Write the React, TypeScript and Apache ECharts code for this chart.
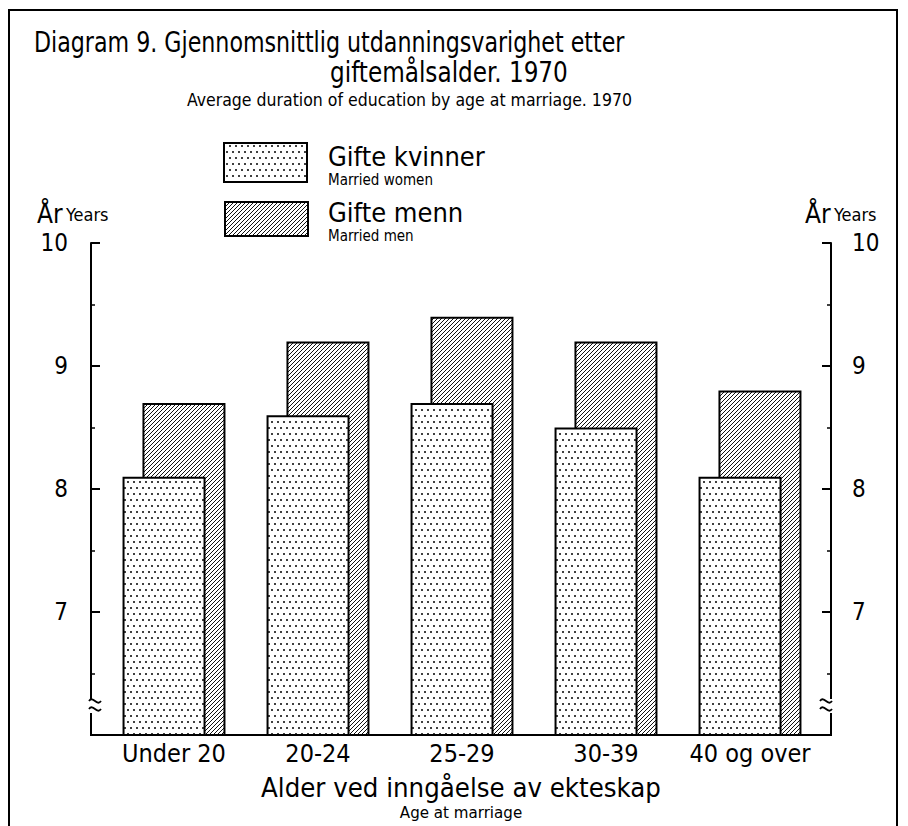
import React, { useEffect, useRef } from "react";
import * as echarts from "echarts";

const categories = ["Under 20", "20-24", "25-29", "30-39", "40 og over"];
const womenValues = [8.1, 8.6, 8.7, 8.5, 8.1];
const menValues = [8.7, 9.2, 9.4, 9.2, 8.8];
const yTickLabels = ["7", "8", "9", "10"];

const FONT = "'Liberation Sans Narrow', 'DejaVu Sans Condensed', 'DejaVu Sans', sans-serif";

function makeDots(): HTMLCanvasElement {
  const c = document.createElement("canvas");
  c.width = 12;
  c.height = 12;
  const g = c.getContext("2d")!;
  g.fillStyle = "#fff";
  g.fillRect(0, 0, 12, 12);
  g.fillStyle = "#000";
  const pts = [
    [2, 2],
    [8, 2],
    [5, 8],
    [11, 8],
  ];
  for (const [x, y] of pts) {
    g.beginPath();
    g.arc(x, y, 1, 0, Math.PI * 2);
    g.fill();
  }
  return c;
}

function makeHatch(): HTMLCanvasElement {
  const s = 4;
  const c = document.createElement("canvas");
  c.width = s;
  c.height = s;
  const g = c.getContext("2d")!;
  g.fillStyle = "#fff";
  g.fillRect(0, 0, s, s);
  g.strokeStyle = "#111";
  g.lineWidth = 1;
  g.beginPath();
  g.moveTo(-1, s + 1);
  g.lineTo(s + 1, -1);
  g.moveTo(-1, 1);
  g.lineTo(1, -1);
  g.moveTo(s - 1, s + 1);
  g.lineTo(s + 1, s - 1);
  g.stroke();
  return c;
}

export default function App() {
  const ref = useRef<HTMLDivElement>(null);
  useEffect(() => {
    if (!ref.current) return;
    const chart = echarts.init(ref.current, null, { renderer: "svg" });
    const dots = makeDots();
    const hatch = makeHatch();
    const dotFill: any = { image: dots, repeat: "repeat" };
    const hatchFill: any = { image: hatch, repeat: "repeat" };

    const txt = (
      text: string,
      x: number,
      y: number,
      size: number,
      align = "left",
      sx = 1
    ) => ({
      type: "text",
      x,
      y,
      scaleX: sx,
      style: {
        text,
        fontSize: size,
        fontFamily: FONT,
        fill: "#000",
        textAlign: align,
        textVerticalAlign: "middle",
        align,
        verticalAlign: "middle",
      },
    });

    const tilde = (x: number, y: number, w: number) => ({
      type: "bezierCurve",
      shape: {
        x1: x,
        y1: y,
        cpx1: x + w * 0.35,
        cpy1: y - 6,
        cpx2: x + w * 0.65,
        cpy2: y + 6,
        x2: x + w,
        y2: y,
      },
      style: { stroke: "#000", lineWidth: 1.8, fill: null },
    });

    const yAxisBase = (pos: "left" | "right", offset: number, margin: number) => ({
      type: "value",
      position: pos,
      offset,
      min: 6,
      max: 10,
      interval: 1,
      axisLine: { show: true, lineStyle: { color: "#000", width: 2 } },
      axisTick: { show: true, inside: true, length: 9, lineStyle: { color: "#000", width: 2 } },
      minorTick: { show: true, splitNumber: 2, length: 4, lineStyle: { color: "#000", width: 1.5 } },
      splitLine: { show: false },
      axisLabel: {
        margin,
        fontSize: 24,
        fontFamily: FONT,
        color: "#000",
        formatter: (v: number) => (yTickLabels.includes(String(v)) ? String(v) : ""),
      },
    });

    const yTitle = (x: number) => ({
      type: "text",
      x,
      y: 214,
      style: {
        text: "{a|År} {b|Years}",
        fontFamily: FONT,
        fill: "#000",
        verticalAlign: "middle",
        textVerticalAlign: "middle",
        rich: {
          a: { fontSize: 26, fontFamily: FONT, color: "#000" },
          b: { fontSize: 18, fontFamily: FONT, color: "#000" },
        },
      },
    });

    chart.setOption({
      animation: false,
      backgroundColor: "#fff",
      grid: { left: 102, right: 86, top: 243, bottom: 91 },
      xAxis: {
        type: "category",
        data: categories,
        axisLine: { show: false },
        axisTick: { show: false },
        axisLabel: { interval: 0, margin: 6, fontSize: 25, fontFamily: FONT, color: "#000" },
      },
      yAxis: [yAxisBase("left", 11, 23), yAxisBase("right", 9, 21)],
      series: [
        {
          name: "Gifte kvinner",
          type: "bar",
          yAxisIndex: 0,
          data: womenValues,
          barWidth: 83,
          barGap: "-76%",
          z: 4,
          itemStyle: { color: dotFill, borderColor: "#000", borderWidth: 2 },
        },
        {
          name: "Gifte menn",
          type: "bar",
          yAxisIndex: 0,
          data: menValues,
          barWidth: 83,
          barGap: "-76%",
          z: 3,
          itemStyle: { color: hatchFill, borderColor: "#000", borderWidth: 2 },
        },
      ],
      graphic: [
        {
          type: "rect",
          shape: { x: 9, y: 10, width: 888, height: 830 },
          style: { fill: null, stroke: "#000", lineWidth: 2 },
          silent: true,
        },
        {
          type: "line",
          shape: { x1: 90, y1: 735, x2: 832, y2: 735 },
          style: { stroke: "#000", lineWidth: 2 },
          z: 10,
        },
        // axis breaks
        { type: "rect", shape: { x: 86, y: 699, width: 10, height: 14 }, style: { fill: "#fff" }, z: 10 },
        { ...tilde(89, 701, 12), z: 11 },
        { ...tilde(89, 709, 12), z: 11 },
        { type: "rect", shape: { x: 826, y: 699, width: 10, height: 14 }, style: { fill: "#fff" }, z: 10 },
        { ...tilde(820, 701, 12), z: 11 },
        { ...tilde(820, 709, 12), z: 11 },
        // titles
        txt("Diagram 9. Gjennomsnittlig utdanningsvarighet etter", 34, 42, 28, "left", 0.88),
        txt("giftemålsalder. 1970", 330, 72, 28, "left", 0.92),
        txt("Average duration of education by age at marriage. 1970", 187, 100, 17.5),
        // legend
        {
          type: "rect",
          shape: { x: 224, y: 143, width: 83, height: 39 },
          style: { fill: dotFill, stroke: "#000", lineWidth: 2 },
        },
        {
          type: "rect",
          shape: { x: 225, y: 202, width: 83, height: 34 },
          style: { fill: hatchFill, stroke: "#000", lineWidth: 2 },
        },
        txt("Gifte kvinner", 328, 156, 27),
        txt("Married women", 328, 180, 15),
        txt("Gifte menn", 328, 212, 27),
        txt("Married men", 328, 236, 15),
        // axis titles
        yTitle(37),
        yTitle(805),
        txt("Alder ved inngåelse av ekteskap", 461, 788, 26, "center", 1.05),
        txt("Age at marriage", 461, 813, 16, "center", 1.05),
      ],
    });
    return () => chart.dispose();
  }, []);
  return (
    <div
      ref={ref}
      style={{ position: "absolute", left: 0, top: 0, width: 908, height: 826 }}
    />
  );
}
